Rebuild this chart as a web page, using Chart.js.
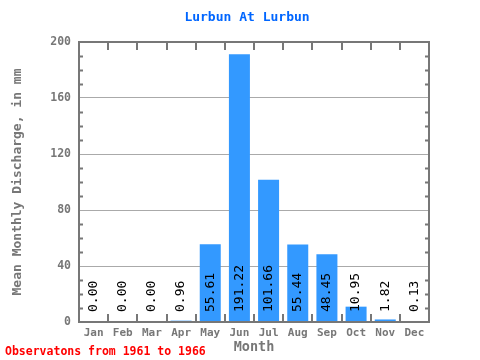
<!DOCTYPE html>
<html>
<head>
<meta charset="utf-8">
<script src="https://cdn.jsdelivr.net/npm/chart.js@4/dist/chart.umd.min.js"></script>
<style>
  html, body { margin: 0; padding: 0; background: #fff; }
  #wrap { width: 480px; height: 360px; }
</style>
</head>
<body>
<div id="wrap"><canvas id="discharge"></canvas></div>
<script>
const months = ["Jan", "Feb", "Mar", "Apr", "May", "Jun", "Jul", "Aug", "Sep", "Oct", "Nov", "Dec"];
const discharge = [0.0, 0.0, 0.0, 0.96, 55.61, 191.22, 101.66, 55.44, 48.45, 10.95, 1.82, 0.13];
const yTicks = [0, 40, 80, 120, 160, 200];

const mono = "'DejaVu Sans Mono', 'Liberation Mono', monospace";
const axisGray = "#777777";

// frame around the plot with small inward ticks, plus title and footnote
const framePlugin = {
  id: "frame",
  afterDraw(chart) {
    const { ctx, chartArea: a } = chart;
    const x = chart.scales.x;
    const y = chart.scales.y;
    ctx.save();
    ctx.strokeStyle = axisGray;
    ctx.lineWidth = 2;
    ctx.strokeRect(a.left, a.top, a.right - a.left, a.bottom - a.top);
    ctx.beginPath();
    for (let v = 10; v < 200; v += 10) {
      if (v % 40 === 0) continue;
      const py = Math.round(y.getPixelForValue(v)) + 0.5;
      ctx.moveTo(a.left, py);
      ctx.lineTo(a.left + 4, py);
      ctx.moveTo(a.right, py);
      ctx.lineTo(a.right - 4, py);
    }
    for (let i = 1; i < months.length; i++) {
      const px = Math.round((x.getPixelForValue(i - 1) + x.getPixelForValue(i)) / 2);
      ctx.moveTo(px, a.top);
      ctx.lineTo(px, a.top + 8);
      ctx.moveTo(px, a.bottom);
      ctx.lineTo(px, a.bottom - 8);
    }
    ctx.stroke();

    ctx.textBaseline = "middle";
    ctx.fillStyle = "#0066ff";
    ctx.font = "bold 13px " + mono;
    ctx.textAlign = "center";
    ctx.fillText("Lurbun At Lurbun", 247, 18);

    ctx.fillStyle = "#ff0000";
    ctx.font = "bold 11.5px " + mono;
    ctx.textAlign = "left";
    ctx.fillText("Observatons from 1961 to 1966", 5, 352);
    ctx.restore();
  },
};

// vertical value labels on each bar
const valuePlugin = {
  id: "values",
  afterDatasetsDraw(chart) {
    const { ctx } = chart;
    const meta = chart.getDatasetMeta(0);
    const base = chart.scales.y.getPixelForValue(0);
    ctx.save();
    ctx.fillStyle = "#000";
    ctx.font = "13px " + mono;
    ctx.textAlign = "left";
    ctx.textBaseline = "middle";
    meta.data.forEach((bar, i) => {
      ctx.save();
      ctx.translate(bar.x, base - 10);
      ctx.rotate(-Math.PI / 2);
      ctx.fillText(discharge[i].toFixed(2), 0, 0);
      ctx.restore();
    });
    ctx.restore();
  },
};

const ctx = document.getElementById("discharge").getContext("2d");
const chart = new Chart(ctx, {
  type: "bar",
  data: {
    labels: months,
    datasets: [
      {
        data: discharge,
        backgroundColor: "rgb(51,153,255)",
        borderWidth: 0,
        barPercentage: 0.72,
        categoryPercentage: 1,
      },
    ],
  },
  options: {
    responsive: true,
    maintainAspectRatio: false,
    animation: false,
    layout: {
      padding: { left: 0, right: 51, top: 42, bottom: 0 },
    },
    plugins: {
      legend: { display: false },
      tooltip: { enabled: false },
      title: { display: false },
    },
    scales: {
      x: {
        offset: true,
        grid: { display: false, drawTicks: false },
        border: { display: false },
        ticks: {
          color: axisGray,
          font: { family: mono, size: 11, weight: "bold" },
          padding: 5,
          maxRotation: 0,
        },
        title: {
          display: true,
          text: "Month",
          color: axisGray,
          font: { family: mono, size: 13.5, weight: "bold" },
          padding: { top: 0, bottom: 4 },
        },
        afterFit(scale) {
          scale.height = 38;
        },
      },
      y: {
        min: 0,
        max: 200,
        afterBuildTicks(scale) {
          scale.ticks = yTicks.map((v) => ({ value: v }));
        },
        grid: {
          drawTicks: false,
          color: (c) => (c.tick && (c.tick.value === 0 || c.tick.value === 200) ? "rgba(0,0,0,0)" : "#aaaaaa"),
        },
        border: { display: false },
        ticks: {
          color: axisGray,
          font: { family: mono, size: 11.5, weight: "bold" },
          padding: 8,
        },
        title: {
          display: true,
          text: "Mean Monthly Discharge, in mm",
          color: axisGray,
          font: { family: mono, size: 13, weight: "bold" },
          padding: { top: 10, bottom: 0 },
        },
        afterFit(scale) {
          scale.width = 79;
        },
      },
    },
  },
  plugins: [framePlugin, valuePlugin],
});
</script>
</body>
</html>
